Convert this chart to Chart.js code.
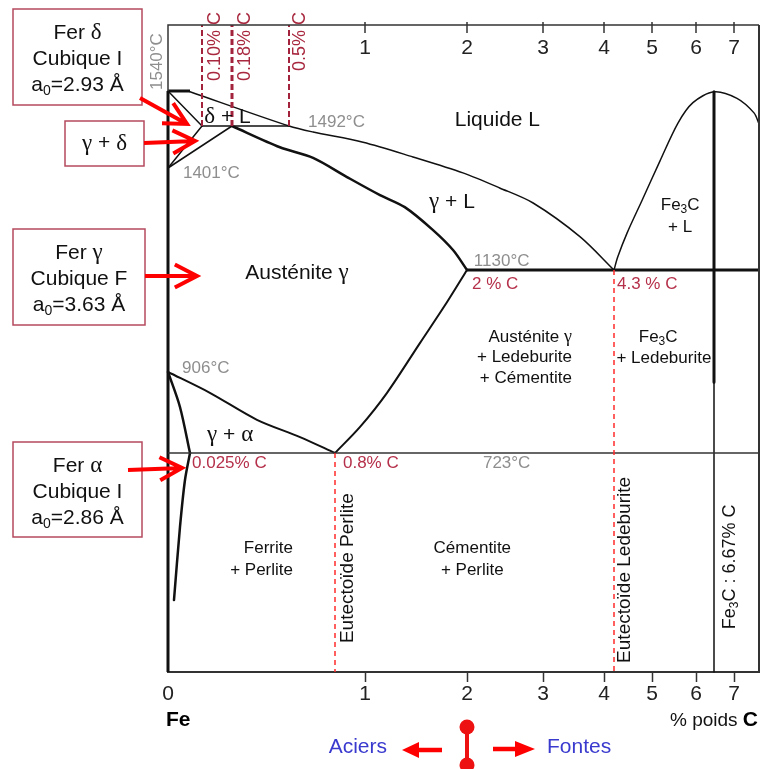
<!DOCTYPE html>
<html>
<head>
<meta charset="utf-8">
<script src="https://cdn.jsdelivr.net/npm/chart.js@4.4.1/dist/chart.umd.min.js"></script>
<style>
  html, body { margin: 0; padding: 0; background: #fff; }
  canvas { display: block; }
</style>
</head>
<body>
<canvas id="diagram" width="760" height="769"></canvas>
<script>
// axis: % C by weight (schematic, non-linear), temperature in °C
const tickValues = [0, 1, 2, 3, 4, 5, 6, 7];
const xStops = [0, 0.025, 0.1, 0.18, 0.5, 0.8, 1, 2, 3, 4, 4.3, 5, 6, 6.67, 7, 7.5];
const xStretch = [0, 22, 34, 64, 121, 167, 197, 299, 375, 436, 446, 484, 528, 546, 566, 591];
const tStops = [236, 723, 906, 1130, 1401, 1492, 1540, 1675];
const tStretch = [0, 219, 300, 402, 504, 546, 581, 647];

// phase boundaries [ %C, °C ]
const pureIron = [[0, 236], [0, 1540]];
const topCap = [[0, 1540], [0.025, 1540]];
const liquidusLow = [[0.025, 1539], [0.5, 1492], [0.657, 1479], [0.987, 1457], [1.47, 1425], [1.96, 1388], [2.43, 1348], [2.87, 1308], [3.61, 1218], [4.3, 1130]];
const liquidusHigh = [[4.3, 1130], [4.37, 1165], [4.54, 1228], [4.82, 1316], [5.18, 1416], [5.59, 1496], [5.93, 1524], [6.67, 1539], [7.06, 1530], [7.4, 1510], [7.5, 1495]];
const deltaSolidus = [[0, 1540], [0.1, 1492]];
const peritectic = [[0.1, 1492], [0.5, 1492]];
const deltaGammaA = [[0.1, 1492], [0, 1401]];
const deltaGammaB = [[0.18, 1492], [0, 1401]];
const gammaSolidus = [[0.18, 1492], [0.449, 1446], [0.657, 1423], [0.88, 1377], [1.147, 1329], [1.39, 1297], [1.667, 1236], [1.863, 1183], [2, 1130]];
const eutectic = [[2, 1130], [7.5, 1130]];
const cementiteUpper = [[6.67, 1539], [6.67, 883]];
const cementiteLower = [[6.67, 883], [6.67, 236]];
const acm = [[2, 1130], [1.80, 1058], [1.54, 970], [1.216, 859], [0.967, 782], [0.8, 723]];
const a3 = [[0, 906], [0.121, 859], [0.32, 798], [0.572, 759], [0.8, 723]];
const a1 = [[0, 723], [7.5, 723]];
const alphaGamma = [[0, 906], [0.0136, 827], [0.025, 723]];
const alphaSolvus = [[0.025, 723], [0.0193, 663], [0.0136, 558], [0.0068, 396]];
const eutectoidMark = [[0.8, 723], [0.8, 236]];
const eutecticMark = [[4.3, 1130], [4.3, 236]];
const peritecticMarks = [0.1, 0.18, 0.5];

// text [label, %C, °C]
const phaseLabels = [
  ['Liquide L', 2.40, 1500, 21, 'center'],
  ['δ + L', 0.168, 1504, 21, 'center'],
  ['γ + L', 1.853, 1311, 21, 'center'],
  ['Austénite γ', 0.552, 1123, 21, 'center'],
  ['Fe_3C', 5.64, 1303, 17, 'center'],
  ['+ L', 5.64, 1244, 17, 'center'],
  ['Austénite γ', 3.475, 983, 17, 'right'],
  ['+ Ledeburite', 3.475, 939, 17, 'right'],
  ['+ Cémentite', 3.475, 892, 17, 'right'],
  ['Fe_3C', 5.14, 983, 17, 'center'],
  ['+ Ledeburite', 5.27, 937, 17, 'center'],
  ['γ + α', 0.175, 764, 21, 'center'],
  ['Ferrite', 0.526, 512, 17, 'right'],
  ['+ Perlite', 0.526, 463, 17, 'right'],
  ['Cémentite', 2.07, 512, 17, 'center'],
  ['+ Perlite', 2.07, 463, 17, 'center']
];
const tempLabels = [
  ['1492°C', 0.624, 1497], ['1401°C', 0.017, 1388], ['1130°C', 2.09, 1154],
  ['906°C', 0.016, 915], ['723°C', 2.21, 701]
];
const carbonLabels = [
  ['2 % C', 2.066, 1099], ['4.3 % C', 4.355, 1099], ['0.025% C', 0.0375, 701], ['0.8% C', 0.853, 701]
];
const upright = [
  ['Eutectoïde Perlite', 0.887, 467, 19],
  ['Eutectoïde Ledeburite', 4.5, 463, 19],
  ['Fe_3C : 6.67% C', 6.93, 470, 18]
];
const topLabels = [['0.10% C', 0.1, 13], ['0.18% C', 0.18, 13], ['0.5% C', 0.5, 11]];

const sideBoxes = [
  { box: [13, 9, 129, 96], lines: ['Fer δ', 'Cubique I', 'a_0=2.93 Å'], arrow: [140, 98, 187, 124] },
  { box: [65, 121, 79, 45], lines: ['γ + δ'], arrow: [144, 143, 195, 141] },
  { box: [13, 229, 132, 96], lines: ['Fer γ', 'Cubique F', 'a_0=3.63 Å'], arrow: [145, 276, 197, 276] },
  { box: [13, 442, 129, 95], lines: ['Fer α', 'Cubique I', 'a_0=2.86 Å'], arrow: [128, 470, 182, 468] }
];

const SANS = '"Liberation Sans", Arial, sans-serif';
const SERIF = '"Liberation Serif", "Times New Roman", serif';

function interp(from, to, v) {
  const n = from.length;
  if (v <= from[0]) return to[0] + (v - from[0]) * (to[1] - to[0]) / (from[1] - from[0]);
  if (v >= from[n - 1]) return to[n - 1] + (v - from[n - 1]) * (to[n - 1] - to[n - 2]) / (from[n - 1] - from[n - 2]);
  let i = 1;
  while (from[i] < v) i++;
  const t = (v - from[i - 1]) / (from[i] - from[i - 1]);
  return to[i - 1] + t * (to[i] - to[i - 1]);
}

const warps = {
  x: { stops: xStops, marks: xStretch.map(v => v / xStretch[xStretch.length - 1]) },
  y: { stops: tStops, marks: tStretch.map(v => v / tStretch[tStretch.length - 1]) }
};

const Linear = Chart.LinearScale || Chart.registry.getScale('linear');
class WarpScale extends Linear {
  getPixelForValue(value) {
    const w = warps[this.axis];
    return this.getPixelForDecimal(interp(w.stops, w.marks, value));
  }
  getValueForPixel(pixel) {
    const w = warps[this.axis];
    return interp(w.marks, w.stops, this.getDecimalForPixel(pixel));
  }
}
WarpScale.id = 'warp';
WarpScale.defaults = {};
Chart.register(WarpScale);

function runs(text, size, bold) {
  const out = [];
  const base = `${bold ? 'bold ' : ''}${size}px ${SANS}`;
  for (let i = 0; i < text.length; i++) {
    const ch = text[i];
    if (ch === '_') {
      out.push({ t: text[i + 1], font: `${Math.round(size * 0.68)}px ${SANS}`, dy: size * 0.28 });
      i++;
      continue;
    }
    if ('αγδ'.includes(ch)) {
      out.push({ t: ch, font: `${Math.round(size * 1.08)}px ${SERIF}`, dy: 0 });
      continue;
    }
    const last = out[out.length - 1];
    if (last && last.font === base) last.t += ch;
    else out.push({ t: ch, font: base, dy: 0 });
  }
  return out;
}

function drawText(ctx, text, x, y, o) {
  const parts = runs(text, o.size, o.bold);
  let w = 0;
  parts.forEach(p => { ctx.font = p.font; p.w = ctx.measureText(p.t).width; w += p.w; });
  ctx.save();
  ctx.translate(x, y);
  if (o.rot) ctx.rotate(-Math.PI / 2);
  let cx = o.align === 'center' ? -w / 2 : o.align === 'right' ? -w : 0;
  ctx.fillStyle = o.color || '#111';
  ctx.textAlign = 'left';
  ctx.textBaseline = 'middle';
  parts.forEach(p => { ctx.font = p.font; ctx.fillText(p.t, cx, p.dy); cx += p.w; });
  ctx.restore();
}

function vArrow(ctx, x1, y1, x2, y2) {
  const ang = Math.atan2(y2 - y1, x2 - x1);
  ctx.beginPath();
  ctx.moveTo(x1, y1); ctx.lineTo(x2, y2);
  ctx.moveTo(x2 - 25 * Math.cos(ang - 0.48), y2 - 25 * Math.sin(ang - 0.48));
  ctx.lineTo(x2, y2);
  ctx.lineTo(x2 - 25 * Math.cos(ang + 0.48), y2 - 25 * Math.sin(ang + 0.48));
  ctx.stroke();
}

function solidArrow(ctx, from, base, tip, y) {
  ctx.beginPath();
  ctx.moveTo(from, y); ctx.lineTo(base, y);
  ctx.stroke();
  ctx.beginPath();
  ctx.moveTo(tip, y); ctx.lineTo(base, y - 8); ctx.lineTo(base, y + 8);
  ctx.closePath();
  ctx.fill();
}

const decor = {
  id: 'decor',
  afterDraw(chart) {
    const { ctx, chartArea: a } = chart;
    const x = chart.scales.x, y = chart.scales.y;
    const px = v => x.getPixelForValue(v), py = t => y.getPixelForValue(t);
    ctx.save();

    // frame
    ctx.strokeStyle = '#333';
    ctx.lineWidth = 1.5;
    ctx.beginPath();
    ctx.moveTo(a.left, py(1540)); ctx.lineTo(a.left, a.top); ctx.lineTo(a.right, a.top);
    ctx.stroke();
    ctx.lineWidth = 2;
    ctx.beginPath(); ctx.moveTo(a.right, a.top); ctx.lineTo(a.right, a.bottom); ctx.stroke();

    // top scale
    ctx.lineWidth = 1.5;
    tickValues.forEach(v => {
      if (!v) return;
      ctx.beginPath(); ctx.moveTo(px(v), a.top - 3); ctx.lineTo(px(v), a.top + 8); ctx.stroke();
      drawText(ctx, String(v), px(v), a.top + 23, { size: 21, color: '#222', align: 'center' });
    });

    topLabels.forEach(([t, c, dx]) =>
      drawText(ctx, t, px(c) + dx, a.top - 13, { size: 18, color: '#a8283f', align: 'right', rot: true }));

    phaseLabels.forEach(([t, c, T, s, al]) =>
      drawText(ctx, t, px(c), py(T), { size: s, align: al }));
    tempLabels.forEach(([t, c, T]) =>
      drawText(ctx, t, px(c), py(T), { size: 17, color: '#8e8e8e', align: 'left' }));
    drawText(ctx, '1540°C', px(0) - 11, py(1540) - 1, { size: 17, color: '#8e8e8e', align: 'left', rot: true });
    carbonLabels.forEach(([t, c, T]) =>
      drawText(ctx, t, px(c), py(T), { size: 17, color: '#b5304a', align: 'left' }));
    upright.forEach(([t, c, T, s]) =>
      drawText(ctx, t, px(c), py(T), { size: s, align: 'center', rot: true }));

    // side boxes
    sideBoxes.forEach(b => {
      const [bx, by, bw, bh] = b.box;
      ctx.strokeStyle = '#b54a5e'; ctx.lineWidth = 1.5;
      ctx.strokeRect(bx, by, bw, bh);
      b.lines.forEach((l, i) => {
        const ly = b.lines.length === 1 ? by + bh / 2 : by + 24 + i * 26;
        drawText(ctx, l, bx + bw / 2, ly, { size: 21, align: 'center' });
      });
      ctx.strokeStyle = '#ff0000'; ctx.lineWidth = 4;
      vArrow(ctx, ...b.arrow);
    });

    // bottom captions
    drawText(ctx, 'Fe', px(0) - 2, a.bottom + 48, { size: 21, bold: true, align: 'left', color: '#000' });
    const cw = (() => { ctx.font = `bold 21px ${SANS}`; return ctx.measureText('C').width; })();
    drawText(ctx, 'C', a.right - 1, a.bottom + 48, { size: 21, bold: true, align: 'right', color: '#000' });
    drawText(ctx, '% poids ', a.right - 1 - cw, a.bottom + 49, { size: 19, align: 'right', color: '#111' });

    const mid = px(2);
    ctx.fillStyle = '#ee1111'; ctx.strokeStyle = '#ee1111'; ctx.lineWidth = 4;
    ctx.beginPath(); ctx.moveTo(mid, a.bottom + 55); ctx.lineTo(mid, a.bottom + 93); ctx.stroke();
    [55, 93].forEach(d => { ctx.beginPath(); ctx.arc(mid, a.bottom + d, 7.5, 0, Math.PI * 2); ctx.fill(); });
    ctx.fillStyle = '#ff0000'; ctx.strokeStyle = '#ff0000'; ctx.lineWidth = 4.5;
    solidArrow(ctx, mid - 25, mid - 48, mid - 65, a.bottom + 78);
    solidArrow(ctx, mid + 26, mid + 48, mid + 68, a.bottom + 77);
    drawText(ctx, 'Aciers', mid - 80, a.bottom + 75, { size: 21, color: '#3a3acf', align: 'right' });
    drawText(ctx, 'Fontes', mid + 80, a.bottom + 75, { size: 21, color: '#3a3acf', align: 'left' });

    ctx.restore();
  }
};

function line(points, width, opts) {
  return Object.assign({
    data: points.map(([x, y]) => ({ x, y })),
    showLine: true,
    borderColor: '#111',
    borderWidth: width,
    pointRadius: 0,
    pointHoverRadius: 0,
    fill: false,
    tension: 0,
    clip: false,
    borderCapStyle: 'round',
    borderJoinStyle: 'round'
  }, opts || {});
}

const redDash = { borderColor: '#ff2b2b', borderDash: [5, 4], borderCapStyle: 'butt' };
const datasets = [
  line(eutectoidMark, 1.5, redDash),
  line(eutecticMark, 1.5, redDash),
  ...peritecticMarks.map(c => line([[c, 1492], [c, 1675]], c === 0.18 ? 3 : 2,
    { borderColor: '#a3233d', borderDash: [6, 3], borderCapStyle: 'butt' })),
  line(a1, 1.5, { borderColor: '#333', borderCapStyle: 'butt' }),
  line(eutectic, 3, { borderCapStyle: 'butt' }),
  line(liquidusLow, 1.5, { tension: 0.3 }),
  line(liquidusHigh, 1.5, { tension: 0.3 }),
  line(deltaSolidus, 1.5),
  line(peritectic, 1.5),
  line(deltaGammaA, 1.5),
  line(deltaGammaB, 1.5),
  line(gammaSolidus, 2.5, { tension: 0.3 }),
  line(acm, 2, { tension: 0.3 }),
  line(a3, 2, { tension: 0.3 }),
  line(alphaGamma, 2.5, { tension: 0.3 }),
  line(alphaSolvus, 2.5, { tension: 0.3 }),
  line(cementiteUpper, 3, { borderCapStyle: 'butt' }),
  line(cementiteLower, 1.5, { borderCapStyle: 'butt' }),
  line(pureIron, 3, { borderCapStyle: 'butt' }),
  line(topCap, 3, { borderCapStyle: 'butt' })
];

new Chart(document.getElementById('diagram'), {
  type: 'scatter',
  data: { datasets },
  options: {
    responsive: false,
    animation: false,
    events: [],
    layout: { padding: { left: 168, right: 1, top: 25, bottom: 0 } },
    plugins: { legend: { display: false }, tooltip: { enabled: false } },
    scales: {
      x: {
        type: 'warp',
        position: 'bottom',
        min: 0,
        max: 7.5,
        afterBuildTicks: s => { s.ticks = tickValues.map(v => ({ value: v })); },
        afterFit: s => { s.height = 97; },
        grid: {
          drawOnChartArea: false,
          tickLength: 10,
          tickWidth: 1.5,
          tickColor: c => (c.tick && c.tick.value === 0 ? 'rgba(0,0,0,0)' : '#333')
        },
        border: { display: true, color: '#333', width: 2 },
        ticks: {
          autoSkip: false,
          maxRotation: 0,
          padding: 0,
          color: '#222',
          font: { family: 'Liberation Sans', size: 21 },
          callback: v => String(v)
        }
      },
      y: { type: 'warp', min: 236, max: 1675, display: false }
    }
  },
  plugins: [decor]
});
</script>
</body>
</html>
